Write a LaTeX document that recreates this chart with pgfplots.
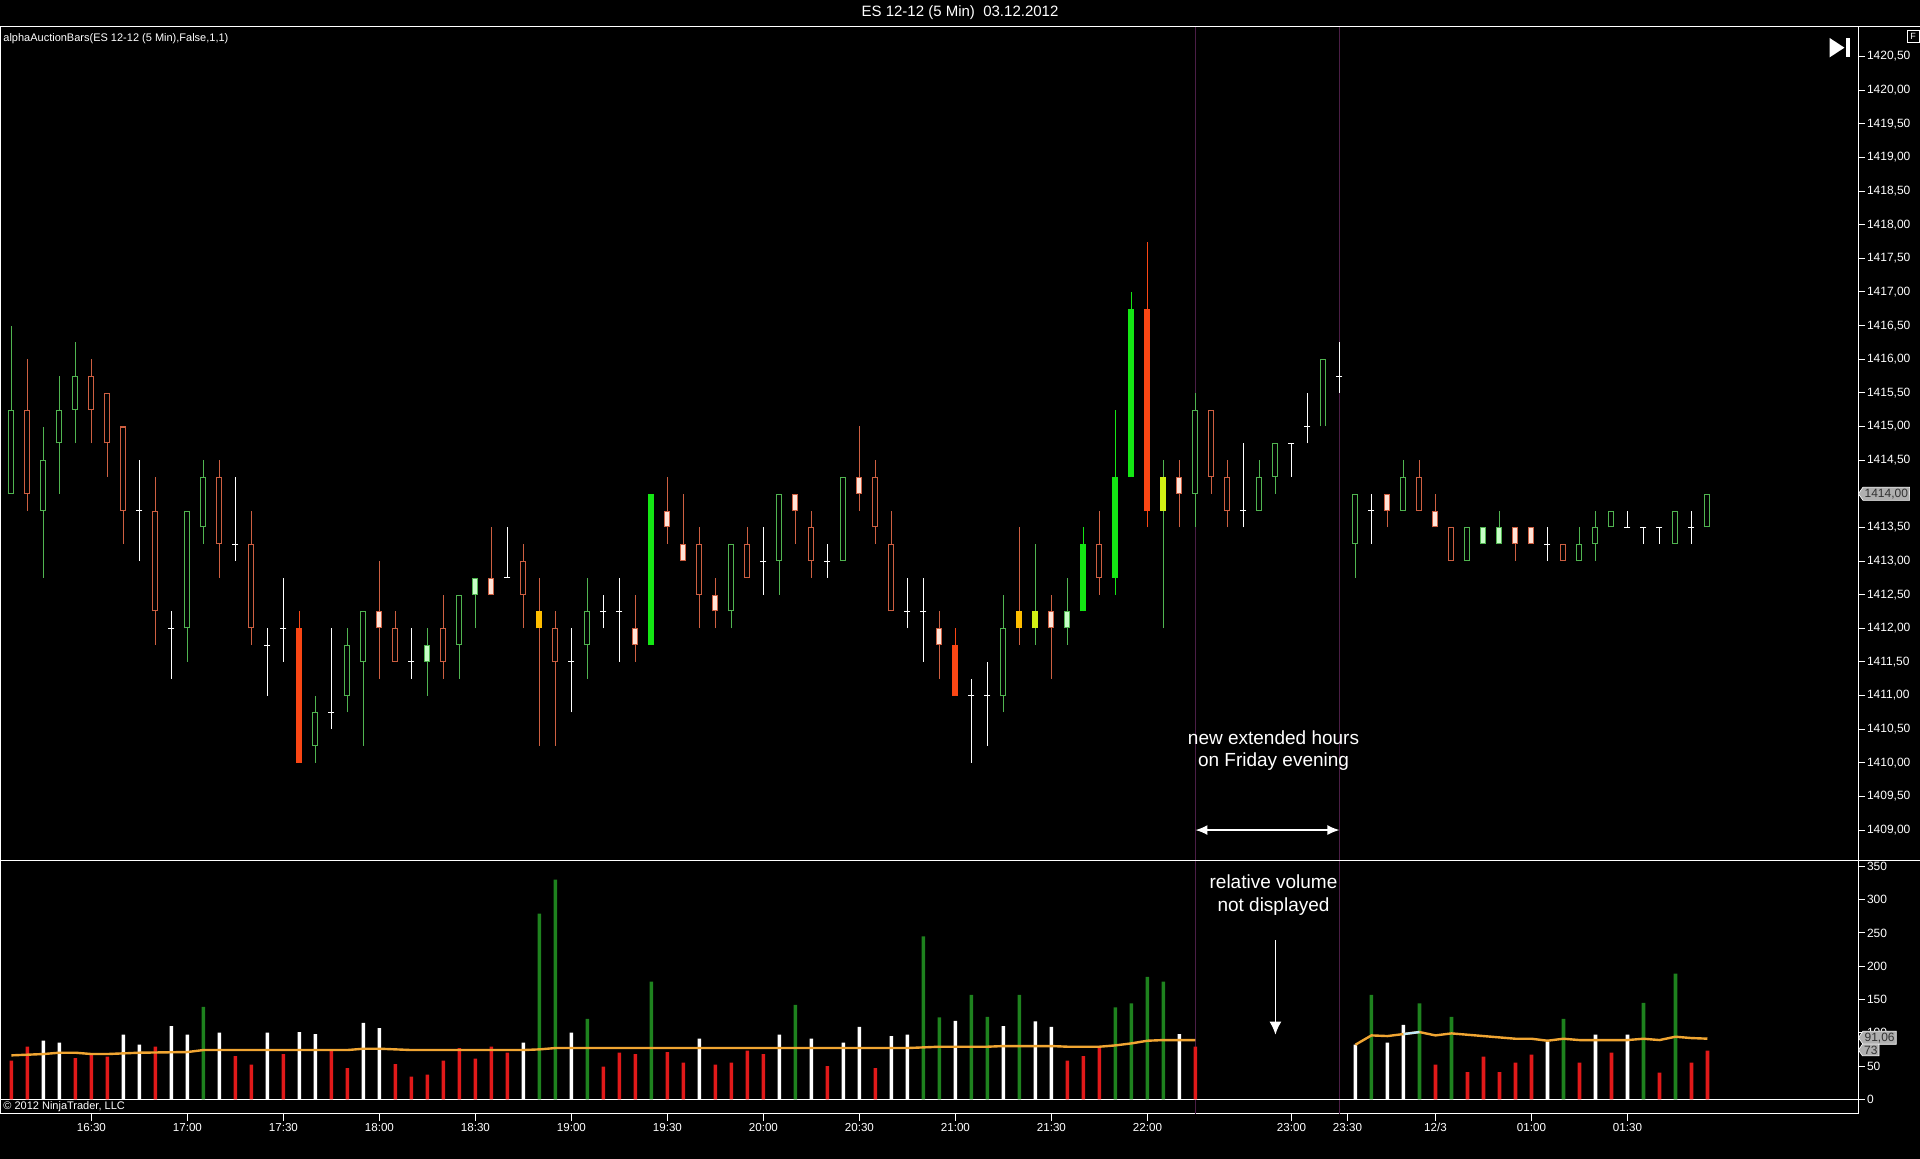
\documentclass[border=0pt]{standalone}
\usepackage{fontspec}
\setmainfont{Liberation Sans}
\usepackage{pgfplots}
\pgfplotsset{compat=1.18}
\usepackage{pgfplotstable}
\usetikzlibrary{arrows.meta,shapes.symbols}

\definecolor{cG}{RGB}{80,180,80}
\definecolor{cR}{RGB}{205,95,65}
\definecolor{cPink}{RGB}{255,228,215}
\definecolor{cLG}{RGB}{200,255,200}
\definecolor{cBG}{RGB}{20,230,20}
\definecolor{cOR}{RGB}{250,70,20}
\definecolor{cAmb}{RGB}{255,190,0}
\definecolor{cChar}{RGB}{210,240,20}
\definecolor{vR}{RGB}{225,25,25}
\definecolor{vG}{RGB}{30,130,30}
\definecolor{maO}{RGB}{240,165,50}
\definecolor{vl}{RGB}{75,30,70}
\definecolor{boxg}{RGB}{175,175,175}
\definecolor{boxt}{RGB}{50,50,50}

% candles: x low high bodybottom bodytop
\pgfplotstableread{
x lo hi bot top
0 1414.0 1416.5 1414.0 1415.25
2 1412.75 1415.0 1413.75 1414.5
3 1414.0 1415.75 1414.75 1415.25
4 1414.75 1416.25 1415.25 1415.75
11 1411.5 1413.75 1412.0 1413.75
12 1413.25 1414.5 1413.5 1414.25
19 1410.0 1411.0 1410.25 1410.75
21 1410.75 1412.0 1411.0 1411.75
22 1410.25 1412.25 1411.5 1412.25
28 1411.25 1412.5 1411.75 1412.5
36 1411.25 1412.75 1411.75 1412.25
45 1412.0 1413.25 1412.25 1413.25
48 1412.5 1414.0 1413.0 1414.0
52 1413.0 1414.25 1413.0 1414.25
62 1410.75 1412.5 1411.0 1412.0
74 1413.5 1415.5 1414.0 1415.25
78 1413.75 1414.5 1413.75 1414.25
79 1414.0 1414.75 1414.25 1414.75
82 1415.0 1416.0 1415.0 1416.0
84 1412.75 1414.0 1413.25 1414.0
87 1413.75 1414.5 1413.75 1414.25
91 1413.0 1413.5 1413.0 1413.5
98 1413.0 1413.5 1413.0 1413.25
99 1413.0 1413.75 1413.25 1413.5
100 1413.5 1413.75 1413.5 1413.75
104 1413.25 1413.75 1413.25 1413.75
106 1413.5 1414.0 1413.5 1414.0
}\tA
\pgfplotstableread{
x lo hi bot top
1 1413.75 1416.0 1414.0 1415.25
5 1414.75 1416.0 1415.25 1415.75
6 1414.25 1415.5 1414.75 1415.5
7 1413.25 1415.0 1413.75 1415.0
9 1411.75 1414.25 1412.25 1413.75
13 1412.75 1414.5 1413.25 1414.25
15 1411.75 1413.75 1412.0 1413.25
24 1411.5 1412.25 1411.5 1412.0
27 1411.25 1412.5 1411.5 1412.0
32 1412.0 1413.25 1412.5 1413.0
34 1410.25 1412.25 1411.5 1412.0
43 1412.0 1413.5 1412.5 1413.25
46 1412.75 1413.5 1412.75 1413.25
50 1412.75 1413.75 1413.0 1413.5
54 1413.25 1414.5 1413.5 1414.25
55 1412.25 1413.75 1412.25 1413.25
68 1412.5 1413.75 1412.75 1413.25
75 1414.0 1415.25 1414.25 1415.25
76 1413.5 1414.5 1413.75 1414.25
88 1413.75 1414.5 1413.75 1414.25
90 1413.0 1413.5 1413.0 1413.5
97 1413.0 1413.25 1413.0 1413.25
}\tB
\pgfplotstableread{
x lo hi bot top
23 1411.25 1413.0 1412.0 1412.25
30 1412.5 1413.5 1412.5 1412.75
39 1411.5 1412.5 1411.75 1412.0
41 1413.25 1414.25 1413.5 1413.75
42 1413.0 1414.0 1413.0 1413.25
44 1412.0 1412.75 1412.25 1412.5
49 1413.25 1414.0 1413.75 1414.0
53 1413.75 1415.0 1414.0 1414.25
58 1411.25 1412.25 1411.75 1412.0
65 1411.25 1412.5 1412.0 1412.25
73 1413.5 1414.5 1414.0 1414.25
86 1413.5 1414.0 1413.75 1414.0
89 1413.5 1414.0 1413.5 1413.75
94 1413.0 1413.5 1413.25 1413.5
95 1413.25 1413.5 1413.25 1413.5
}\tC
\pgfplotstableread{
x lo hi bot top
26 1411.0 1412.0 1411.5 1411.75
29 1412.0 1412.75 1412.5 1412.75
66 1411.75 1412.75 1412.0 1412.25
92 1413.25 1413.5 1413.25 1413.5
93 1413.25 1413.75 1413.25 1413.5
}\tD
\pgfplotstableread{
x lo hi bot top
40 1411.75 1414.0 1411.75 1414.0
67 1412.25 1413.5 1412.25 1413.25
69 1412.5 1415.25 1412.75 1414.25
70 1414.25 1417.0 1414.25 1416.75
}\tE
\pgfplotstableread{
x lo hi bot top
18 1410.0 1412.25 1410.0 1412.0
59 1411.0 1412.0 1411.0 1411.75
71 1413.5 1417.75 1413.75 1416.75
}\tF
\pgfplotstableread{
x lo hi bot top
33 1410.25 1412.75 1412.0 1412.25
63 1411.75 1413.5 1412.0 1412.25
}\tG
\pgfplotstableread{
x lo hi bot top
64 1411.75 1413.25 1412.0 1412.25
72 1412.0 1414.5 1413.75 1414.25
}\tH
% doji: x low high close
\pgfplotstableread{
x lo hi c
8 1413.0 1414.5 1413.75
10 1411.25 1412.25 1412.0
14 1413.0 1414.25 1413.25
16 1411.0 1412.0 1411.75
17 1411.5 1412.75 1412.0
20 1410.5 1412.0 1410.75
25 1411.25 1412.0 1411.5
31 1412.75 1413.5 1412.75
35 1410.75 1412.0 1411.5
37 1412.0 1412.5 1412.25
38 1411.5 1412.75 1412.25
47 1412.5 1413.5 1413.0
51 1412.75 1413.25 1413.0
56 1412.0 1412.75 1412.25
57 1411.5 1412.75 1412.25
60 1410.0 1411.25 1411.0
61 1410.25 1411.5 1411.0
77 1413.5 1414.75 1413.75
80 1414.25 1414.75 1414.75
81 1414.75 1415.5 1415.0
83 1415.5 1416.25 1415.75
85 1413.25 1414.0 1413.75
96 1413.0 1413.5 1413.25
101 1413.5 1413.75 1413.5
102 1413.25 1413.5 1413.5
103 1413.25 1413.5 1413.5
105 1413.25 1413.75 1413.5
}\tI
% volume
\pgfplotstableread{
x v
2 88
3 85
7 97
8 82
10 110
11 97
13 100
16 100
18 101
19 98
22 115
23 107
32 85
35 100
43 91
48 97
50 91
52 85
53 109
55 95
56 97
59 118
62 110
64 117
65 109
73 98
84 82
86 85
87 112
96 86
99 97
101 97
}\vW
\pgfplotstableread{
x v
0 58
1 79
4 62
5 67
6 64
9 79
14 65
15 52
17 68
20 73
21 47
24 53
25 34
26 37
27 58
28 77
29 61
30 79
31 70
37 49
38 70
39 68
41 71
42 55
44 52
45 55
46 73
47 68
51 50
54 47
66 58
67 65
68 77
74 79
89 52
91 41
92 64
93 41
94 55
95 67
98 55
100 70
103 40
105 55
106 73
}\vR
\pgfplotstableread{
x v
12 139
33 279
34 330
36 121
40 177
49 142
57 245
58 123
60 157
61 124
63 157
69 138
70 144
71 184
72 177
85 157
88 144
90 124
97 121
102 145
104 189
}\vG

\pgfplotsset{
  cbar/.style 2 args={only marks, mark=none, mark size=0pt, mark options={draw=none,fill=none},
    error bars/.cd, y dir=plus, y explicit, error mark=none,
    draw error bar/.code 2 args={\draw[/pgfplots/every error bar] ##1 -- ##2;},
    error bar style={line width=#1, color=#2, line cap=butt}},
}
\newcommand\wicks[2]{\addplot[cbar={0.5pt}{#2}]
  table[x=x, y=lo, y error expr={\thisrow{hi}-\thisrow{lo}}] {#1};}
\newcommand\bodyout[2]{\addplot[cbar={3pt}{#2}]
  table[x=x, y=bot, y error expr={\thisrow{top}-\thisrow{bot}}] {#1};}
\newcommand\bodyin[2]{\addplot[cbar={2pt}{#2}]
  table[x=x, y expr={\thisrow{bot}+0.0149}, y error expr={\thisrow{top}-\thisrow{bot}-0.0298}] {#1};}

\begin{document}
\begin{tikzpicture}
\path[use as bounding box, fill=black] (0,0) rectangle (960pt,579.5pt);

\begin{axis}[
  at={(0.5pt,149pt)}, anchor=south west, scale only axis,
  width=928.5pt, height=417pt,
  xmin=-0.65, xmax=115.41, ymin=1408.54, ymax=1420.94,
  axis line style={white, line width=0.5pt},
  xtick=\empty,
  ytick distance=0.5,
  ytick pos=right, yticklabel pos=right,
  tick align=outside, major tick length=3.5pt,
  tick style={white, line width=0.5pt},
  /pgf/number format/assume math mode=true,
  yticklabel style={font=\fontsize{6}{7}\selectfont, text=white, inner sep=0.8pt,
    /pgf/number format/fixed, /pgf/number format/fixed zerofill,
    /pgf/number format/precision=2, /pgf/number format/use comma,
    /pgf/number format/1000 sep={}},
]
\draw[vl, line width=0.6pt] ({axis cs:74,1410} |- {rel axis cs:0,0}) -- ({axis cs:74,1410} |- {rel axis cs:0,1});
\draw[vl, line width=0.6pt] ({axis cs:83,1410} |- {rel axis cs:0,0}) -- ({axis cs:83,1410} |- {rel axis cs:0,1});
% wicks
\wicks{\tA}{cG}
\wicks{\tB}{cR}
\wicks{\tC}{cR}
\wicks{\tD}{cG}
\wicks{\tE}{cBG}
\wicks{\tF}{cOR}
\wicks{\tG}{cR}
\wicks{\tH}{cG}
\wicks{\tI}{white}
% bodies
\bodyout{\tA}{cG}
\bodyin{\tA}{black}
\bodyout{\tB}{cR}
\bodyin{\tB}{black}
\bodyout{\tC}{cR}
\bodyin{\tC}{cPink}
\bodyout{\tD}{cG}
\bodyin{\tD}{cLG}
\bodyout{\tE}{cBG}
\bodyout{\tF}{cOR}
\bodyout{\tG}{cAmb}
\bodyout{\tH}{cChar}
\addplot[only marks, mark=-, mark size=1.5pt, white, mark options={line width=0.5pt}] table[x=x, y=c] {\tI};
\draw[white, line width=0.8pt, {Latex[length=6pt,width=5pt]}-{Latex[length=6pt,width=5pt]}] (axis cs:74,1409) -- (axis cs:83,1409);
\coordinate (pm) at ({rel axis cs:1,0} |- {axis cs:0,1414});
\end{axis}

\begin{axis}[
  at={(0.5pt,22.7pt)}, anchor=south west, scale only axis,
  width=928.5pt, height=126.3pt,
  xmin=-0.65, xmax=115.41, ymin=-21.5, ymax=358.1,
  axis line style={white, line width=0.5pt},
  xtick={5,11,17,23,29,35,41,47,53,59,65,71,80,83.5,89,95,101},
  xticklabels={16:30,17:00,17:30,18:00,18:30,19:00,19:30,20:00,20:30,21:00,21:30,22:00,23:00,23:30,12/3,01:00,01:30},
  xtick pos=left,
  ytick={0,50,...,350},
  ytick pos=right, yticklabel pos=right,
  tick align=outside, major tick length=3.5pt,
  tick style={white, line width=0.5pt},
  /pgf/number format/assume math mode=true,
  yticklabel style={font=\fontsize{6}{7}\selectfont, text=white, inner sep=0.8pt},
  xticklabel style={font=\fontsize{5.8}{7}\selectfont, text=white, inner sep=1pt},
]
\draw[vl, line width=0.6pt] ({axis cs:74,0} |- {rel axis cs:0,0}) -- ({axis cs:74,0} |- {rel axis cs:0,1});
\draw[vl, line width=0.6pt] ({axis cs:83,0} |- {rel axis cs:0,0}) -- ({axis cs:83,0} |- {rel axis cs:0,1});
\draw[white, line width=0.5pt] ({rel axis cs:0,0} |- {axis cs:0,0}) -- ({rel axis cs:1,0} |- {axis cs:0,0});
\addplot[ybar, bar width=1.8pt, bar shift=0pt, fill=white, draw=none] table[x=x, y=v] {\vW};
\addplot[ybar, bar width=1.8pt, bar shift=0pt, fill=vR, draw=none] table[x=x, y=v] {\vR};
\addplot[ybar, bar width=1.8pt, bar shift=0pt, fill=vG, draw=none] table[x=x, y=v] {\vG};
\addplot[maO, line width=1.2pt, mark=none] coordinates {
(0,66) (1,67) (2,68) (3,70) (4,70) (5,68) (6,68) (7,69) (8,70) (11,71) (12,74) (21,74) (22,76) (23,76) (24,75) (25,74) (32,74) (33,75) (34,77) (56,77) (57,78) (58,79) (61,79) (62,80) (65,80) (66,79) (68,79) (69,81) (70,84) (71,88) (72,89) (74,89)};
\addplot[maO, line width=1.2pt, mark=none] coordinates {
(84,82) (85,96) (86,95) (87,98) (88,101) (89,96) (90,99) (91,97) (92,95) (93,93) (94,91) (95,91) (96,88) (97,91) (98,89) (101,89) (102,91) (103,89) (104,94) (105,92) (106,91.06)};
\addplot[white!75!cyan, line width=1.2pt, mark=none] coordinates {(87,98) (88,101)};
\draw[white, line width=0.9pt, -{Latex[length=6.5pt,width=6pt]}] (axis cs:79,239) -- (axis cs:79,97);
\coordinate (vm1) at ({rel axis cs:1,0} |- {axis cs:0,92.5});
\coordinate (vm2) at ({rel axis cs:1,0} |- {axis cs:0,74});
\end{axis}

% full width separator lines
\draw[white, line width=0.5pt] (0,566pt) -- (960pt,566pt);
\draw[white, line width=0.5pt] (0,149pt) -- (960pt,149pt);

% value markers
\node[signal, signal to=west, signal pointer angle=110, fill=boxg, draw=white, line width=0.3pt,
  inner sep=0.8pt, anchor=west, text=boxt, font=\fontsize{6}{7}\selectfont] at (pm) {1414,00};
\node[signal, signal to=west, signal pointer angle=110, fill=boxg, draw=white, line width=0.3pt,
  inner sep=0.8pt, anchor=west, text=boxt, font=\fontsize{6}{7}\selectfont] at (vm1) {91,06};
\node[signal, signal to=west, signal pointer angle=110, fill=boxg, draw=white, line width=0.3pt,
  inner sep=0.8pt, anchor=west, text=boxt, font=\fontsize{6}{7}\selectfont] at (vm2) {73};

% texts
\node[text=white, font=\fontsize{7.5}{9}\selectfont] at (480pt,573pt) {ES 12-12 (5 Min)\ \ 03.12.2012};
\node[text=white, anchor=west, inner sep=0pt, font=\fontsize{5.5}{6.5}\selectfont] at (1.5pt,560pt) {alphaAuctionBars(ES 12-12 (5 Min),False,1,1)};
\node[text=white, anchor=west, inner sep=0pt, font=\fontsize{5.5}{6.5}\selectfont] at (1.5pt,26pt) {\textcopyright{} 2012 NinjaTrader, LLC};
\node[text=white, align=center, font=\fontsize{9.5}{11}\selectfont] at (636.75pt,204.2pt) {new extended hours\\on Friday evening};
\node[text=white, align=center, font=\fontsize{9.5}{11.5}\selectfont] at (636.75pt,132.2pt) {relative volume\\not displayed};

% top-right icons
\fill[white] (914.8pt,560.5pt) -- (914.8pt,550.8pt) -- (922.2pt,555.65pt) -- cycle;
\fill[white] (923pt,550.8pt) rectangle (925pt,560.5pt);
\draw[white, line width=0.4pt] (953.5pt,558.5pt) rectangle (959.5pt,564.5pt);
\node[text=white, inner sep=0pt, font=\fontsize{4.5}{5}\selectfont] at (956.5pt,561.5pt) {F};
\end{tikzpicture}
\end{document}
